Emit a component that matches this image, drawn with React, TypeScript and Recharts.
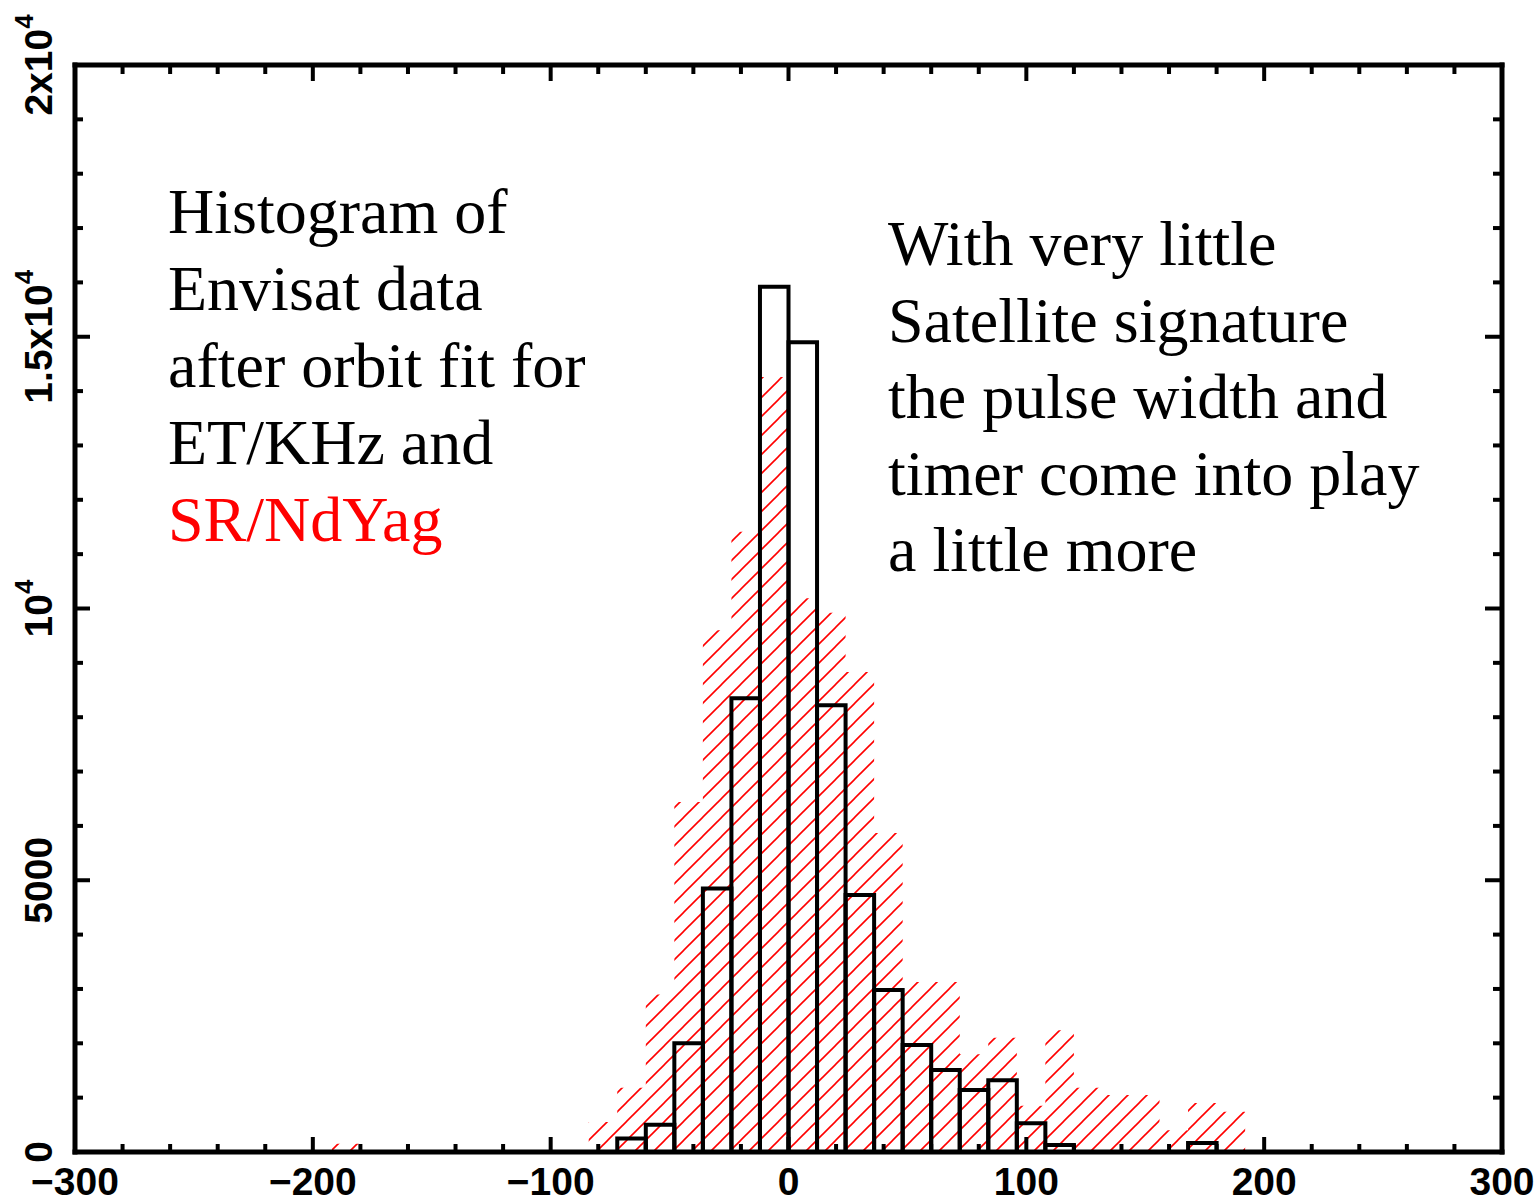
import { ComposedChart, Area, XAxis, YAxis, ReferenceArea } from "recharts";

const BIN = 12;
const PLOT_TOP = 65;

// SR/NdYag histogram (red hatch): left bin edge and count
const redStarts = [-192, -84, -72, -60, -48, -36, -24, -12, 0, 12, 24, 36, 48, 60, 72, 84, 96, 108, 120, 132, 144, 156, 168, 180];
const redCounts = [150, 550, 1180, 2900, 6440, 9600, 11410, 14260, 10190, 9920, 8830, 5870, 3130, 3130, 1800, 2100, 850, 2240, 1180, 1050, 1050, 400, 900, 740];

// ET/KHz histogram (black outline)
const blackStarts = [-72, -60, -48, -36, -24, -12, 0, 12, 24, 36, 48, 60, 72, 84, 96, 108, 168];
const blackCounts = [250, 500, 2000, 4850, 8350, 15920, 14900, 8220, 4730, 2980, 1970, 1510, 1140, 1320, 530, 130, 165];

const xTicks = [-300, -280, -260, -240, -220, -200, -180, -160, -140, -120, -100, -80, -60, -40, -20, 0, 20, 40, 60, 80, 100, 120, 140, 160, 180, 200, 220, 240, 260, 280, 300];
const yTicks = [0, 1000, 2000, 3000, 4000, 5000, 6000, 7000, 8000, 9000, 10000, 11000, 12000, 13000, 14000, 15000, 16000, 17000, 18000, 19000, 20000];
const yMajor = [0, 5000, 10000, 15000, 20000];
const yLabelBase = ["0", "5000", "10", "1.5x10", "2x10"];
const yLabelExp = ["", "", "4", "4", "4"];

const leftNote = ["Histogram of", "Envisat data", "after orbit fit for", "ET/KHz and"];
const leftNoteRed = "SR/NdYag";
const rightNote = ["With very little", "Satellite signature", "the pulse width and", "timer come into play", "a little more"];

// step data for the hatched area, closing every run of bins back to zero
const redData: { x: number; red: number }[] = [];
redStarts.forEach((s, i) => {
  redData.push({ x: s, red: redCounts[i] });
  if (redStarts[i + 1] !== s + BIN) redData.push({ x: s + BIN, red: 0 });
});

const AXIS_FONT = "'Liberation Sans', Arial, sans-serif";
const tickStroke = { stroke: "#000", strokeWidth: 4 };

// bottom axis tick: inward tick at bottom and top of the frame + label
function BottomTick({ x, y, payload }: any) {
  const v = payload.value;
  const major = v % 100 === 0;
  return (
    <g>
      <line x1={x} x2={x} y1={y} y2={y - (major ? 15 : 8)} {...tickStroke} />
      <line x1={x} x2={x} y1={PLOT_TOP} y2={PLOT_TOP + (major ? 16 : 9)} {...tickStroke} />
      {major && (
        <text x={x} y={y + 43} textAnchor="middle" fontFamily={AXIS_FONT} fontSize={39} fontWeight={700} fill="#000">
          {v < 0 ? `\u2212${-v}` : `${v}`}
        </text>
      )}
    </g>
  );
}

function LeftTick({ x, y, payload }: any) {
  const v = payload.value;
  const idx = yMajor.indexOf(v);
  const major = idx >= 0;
  return (
    <g>
      <line x1={x} x2={x + (major ? 15 : 8)} y1={y} y2={y} {...tickStroke} />
      {major && (
        <text
          transform={`translate(${x - 23}, ${y}) rotate(-90)`}
          textAnchor="middle"
          fontFamily={AXIS_FONT}
          fontSize={39}
          fontWeight={700}
          fill="#000"
        >
          {yLabelBase[idx]}
          {yLabelExp[idx] && (
            <tspan dy={-19} fontSize={26}>
              {yLabelExp[idx]}
            </tspan>
          )}
        </text>
      )}
    </g>
  );
}

function RightTick({ x, y, payload }: any) {
  const major = payload.value % 5000 === 0;
  return <line x1={x} x2={x - (major ? 17 : 9)} y1={y} y2={y} {...tickStroke} />;
}

const axisLine = { stroke: "#000", strokeWidth: 5, strokeLinecap: "square" as const };

export default function App() {
  return (
    <div style={{ position: "absolute", left: 0, top: 0, width: 1538, height: 1202, background: "#fff" }}>
      <ComposedChart
        width={1538}
        height={1202}
        data={redData}
        margin={{ top: PLOT_TOP - 1, right: 35, bottom: 0, left: 0 }}
      >
        <defs>
          <pattern id="redHatch" patternUnits="userSpaceOnUse" width={19} height={19}>
            <line x1={0} y1={19} x2={19} y2={0} stroke="#ff0000" strokeWidth={1.6} />
            <line x1={-2} y1={2} x2={2} y2={-2} stroke="#ff0000" strokeWidth={1.6} />
            <line x1={17} y1={21} x2={21} y2={17} stroke="#ff0000" strokeWidth={1.6} />
          </pattern>
        </defs>
        <XAxis
          type="number"
          dataKey="x"
          domain={[-300, 300]}
          ticks={xTicks}
          interval={0}
          allowDataOverflow
          height={50}
          tickSize={0}
          tickMargin={0}
          tickLine={false}
          axisLine={axisLine}
          tick={BottomTick}
        />
        <XAxis
          xAxisId="top"
          orientation="top"
          type="number"
          domain={[-300, 300]}
          allowDataOverflow
          height={1}
          tickLine={false}
          axisLine={axisLine}
          tick={false}
        />
        <YAxis
          type="number"
          domain={[0, 20000]}
          ticks={yTicks}
          interval={0}
          allowDataOverflow
          width={75}
          tickSize={0}
          tickMargin={0}
          tickLine={false}
          axisLine={axisLine}
          tick={LeftTick}
        />
        <YAxis
          yAxisId="right"
          orientation="right"
          type="number"
          domain={[0, 20000]}
          ticks={yTicks}
          interval={0}
          allowDataOverflow
          width={1}
          tickSize={0}
          tickMargin={0}
          tickLine={false}
          axisLine={axisLine}
          tick={RightTick}
        />
        <Area
          type="stepAfter"
          dataKey="red"
          stroke="none"
          fill="url(#redHatch)"
          fillOpacity={1}
          dot={false}
          activeDot={false}
          isAnimationActive={false}
        />
        {blackStarts.map((s, i) => (
          <ReferenceArea
            key={s}
            x1={s}
            x2={s + BIN}
            y1={0}
            y2={blackCounts[i]}
            fill="none"
            fillOpacity={0}
            stroke="#000"
            strokeWidth={4}
            ifOverflow="visible"
          />
        ))}
      </ComposedChart>
      <svg
        width={1538}
        height={1202}
        style={{ position: "absolute", left: 0, top: 0, pointerEvents: "none" }}
      >
        <g fontFamily="'Liberation Serif', 'Times New Roman', serif" fontSize={64}>
          {leftNote.map((t, i) => (
            <text key={t} x={168} y={233 + i * 77} fill="#000">
              {t}
            </text>
          ))}
          <text x={168} y={233 + 4 * 77} fill="#ff0000">
            {leftNoteRed}
          </text>
          {rightNote.map((t, i) => (
            <text key={t} x={888} y={265 + i * 76.5} fill="#000">
              {t}
            </text>
          ))}
        </g>
      </svg>
    </div>
  );
}
